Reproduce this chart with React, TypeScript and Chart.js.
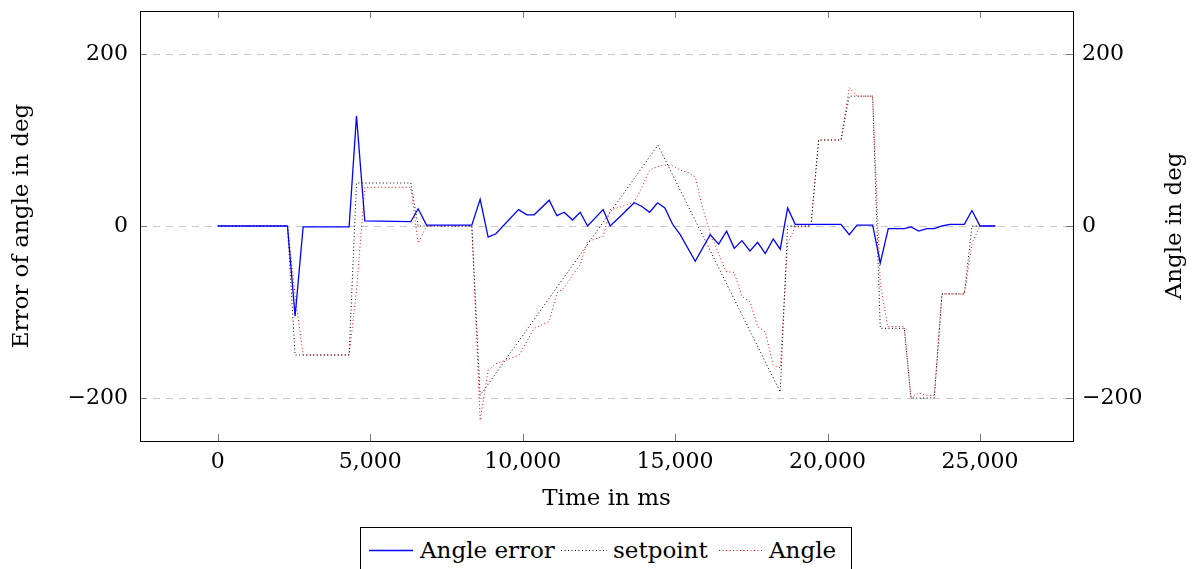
import React, { useEffect, useRef } from "react";
import { Chart, registerables } from "chart.js";

Chart.register(...registerables);

// ---- Data (time in ms) ----
const errTimes = [0, 2287, 2537, 2800, 4308, 4550, 4823, 6332, 6572, 6846, 8333, 8606, 8868, 9121, 9865, 10138, 10378, 10870, 11122, 11362, 11637, 11887, 12129, 12641, 12871, 13199, 13658, 13901, 14163, 14426, 14665, 14918, 15167, 15660, 16152, 16427, 16689, 16939, 17192, 17454, 17707, 17956, 18219, 18448, 18690, 18940, 20440, 20713, 20965, 21479, 21729, 21991, 22516, 22736, 22989, 23251, 23501, 23753, 24016, 24486, 24737, 25000, 25502];
const errValues = [0, 0, -105, -1, -1, 128, 6, 5, 20, 1, 1, 31, -13, -9, 19, 13, 13, 30, 12, 16, 7, 16, 0, 19, 0, 11, 27, 23, 16, 27, 21, 2, -10, -41, -10, -21, -6, -26, -17, -29, -19, -32, -15, -27, 21, 2, 2, -10, 1, 1, -43, -3, -3, -1, -6, -3, -3, 0, 2, 2, 18, 0, 0];

const setTimes = [0, 2287, 2537, 4308, 4550, 6332, 6572, 8333, 8606, 14436, 18448, 18690, 19455, 19707, 20440, 20713, 21479, 21729, 22516, 22736, 23501, 23753, 24486, 24737, 25502];
const setValues = [0, 0, -150, -150, 50, 50, 0, 0, -197, 94, -193, 0, 0, 100, 100, 151, 151, -119, -119, -200, -200, -79, -79, 0, 0];

const angTimes = [0, 2287, 2537, 2800, 4308, 4550, 4823, 6332, 6572, 6846, 8333, 8606, 8868, 9121, 9372, 9886, 10378, 10870, 11122, 11362, 11637, 11887, 12129, 12641, 12871, 13199, 13658, 13901, 14163, 14403, 14665, 14918, 15167, 15443, 15660, 15902, 16152, 16427, 16667, 16939, 17192, 17454, 17707, 17956, 18219, 18448, 18691, 18940, 19455, 19707, 20440, 20713, 20965, 21479, 21729, 21971, 22516, 22736, 22989, 23251, 23501, 23753, 24486, 24737, 25000, 25502];
const angValues = [0, 0, -80, -150, -150, -75, 45, 45, -20, 0, 0, -226, -168, -160, -157, -150, -119, -111, -78, -72, -57, -45, -18, -12, 19, 22, 28, 44, 65, 69, 71, 70, 65, 62, 57, 21, -9, -32, -53, -54, -82, -88, -117, -123, -162, -165, -20, -1, 0, 100, 100, 161, 151, 151, -67, -117, -117, -200, -194, -197, -197, -79, -79, -20, 0, 0];

const xTicks = [0, 5000, 10000, 15000, 20000, 25000];
const yTicks = [-200, 0, 200];

const seriesNames = ["Angle error", "setpoint", "Angle"];

const FONT = "'DejaVu Serif', serif";

const toXY = (xs: number[], ys: number[]) => xs.map((x, i) => ({ x, y: ys[i] }));
const fmtY = (v: number) => (v < 0 ? "\u2212" + Math.abs(v) : String(v));

const framePlugin = {
  id: "frame",
  beforeDatasetsDraw(chart: any) {
    const { ctx, chartArea, scales } = chart;
    const { left, right, top, bottom } = chartArea;
    ctx.save();
    ctx.strokeStyle = "#c8c8c8";
    ctx.lineWidth = 1;
    ctx.setLineDash([7, 6]);
    for (const v of yTicks) {
      const y = Math.round(scales.y.getPixelForValue(v)) + 0.5;
      ctx.beginPath();
      ctx.moveTo(left, y);
      ctx.lineTo(right, y);
      ctx.stroke();
    }
    ctx.setLineDash([]);
    ctx.strokeStyle = "#7a7a7a";
    for (const v of xTicks) {
      const x = Math.round(scales.x.getPixelForValue(v)) + 0.5;
      ctx.beginPath();
      ctx.moveTo(x, bottom);
      ctx.lineTo(x, bottom - 7);
      ctx.moveTo(x, top);
      ctx.lineTo(x, top + 7);
      ctx.stroke();
    }
    for (const v of yTicks) {
      const y = Math.round(scales.y.getPixelForValue(v)) + 0.5;
      ctx.beginPath();
      ctx.moveTo(left, y);
      ctx.lineTo(left + 7, y);
      ctx.moveTo(right, y);
      ctx.lineTo(right - 7, y);
      ctx.stroke();
    }
    ctx.restore();
  },
  afterDatasetsDraw(chart: any) {
    const { ctx, chartArea } = chart;
    const { left, right, top, bottom } = chartArea;
    ctx.save();
    ctx.strokeStyle = "#000";
    ctx.lineWidth = 1;
    ctx.strokeRect(Math.round(left) + 0.5, Math.round(top) + 0.5, Math.round(right - left), Math.round(bottom - top));
    // right axis title, reading bottom-to-top
    ctx.fillStyle = "#000";
    ctx.font = "23px " + FONT;
    ctx.textAlign = "center";
    ctx.textBaseline = "middle";
    ctx.translate(1175, (top + bottom) / 2);
    ctx.rotate(-Math.PI / 2);
    ctx.fillText("Angle in deg", 0, 0);
    ctx.restore();
  },
};

export default function App() {
  const canvasRef = useRef<HTMLCanvasElement | null>(null);

  useEffect(() => {
    const canvas = canvasRef.current;
    if (!canvas) return;
    const tickFont = { family: FONT, size: 22 };
    const titleFont = { family: FONT, size: 23 };
    const fitY = (w: number) => (s: any) => {
      s.width = w;
      s.paddingTop = 0;
      s.paddingBottom = 0;
    };
    const chart = new Chart(canvas, {
      type: "line",
      data: {
        datasets: [
          {
            label: seriesNames[0],
            data: toXY(errTimes, errValues),
            borderColor: "#0000ff",
            borderWidth: 1.3,
            pointRadius: 0,
            tension: 0,
            yAxisID: "y",
          },
          {
            label: seriesNames[1],
            data: toXY(setTimes, setValues),
            borderColor: "#000000",
            borderWidth: 1,
            borderDash: [1, 2.5],
            pointRadius: 0,
            tension: 0,
            yAxisID: "y2",
          },
          {
            label: seriesNames[2],
            data: toXY(angTimes, angValues),
            borderColor: "#ff0000",
            borderWidth: 1,
            borderDash: [1, 2.5],
            pointRadius: 0,
            tension: 0,
            yAxisID: "y2",
          },
        ],
      },
      options: {
        animation: false,
        responsive: false,
        devicePixelRatio: 1,
        layout: { padding: { left: 0, right: 0, top: 11, bottom: 56 } },
        plugins: { legend: { display: false }, tooltip: { enabled: false } },
        scales: {
          x: {
            type: "linear",
            min: -2550,
            max: 28050,
            afterBuildTicks: (s: any) => {
              s.ticks = xTicks.map((v) => ({ value: v }));
            },
            afterFit: (s: any) => {
              s.height = 72;
              s.paddingLeft = 0;
              s.paddingRight = 0;
            },
            grid: { display: false, drawTicks: false },
            border: { display: false },
            ticks: {
              font: tickFont,
              color: "#000",
              padding: 8,
              maxRotation: 0,
              autoSkip: false,
              callback: (v: any) => Number(v).toLocaleString("en-US"),
            },
            title: {
              display: true,
              text: "Time in ms",
              font: titleFont,
              color: "#000",
              padding: { top: 0, bottom: 0 },
            },
          },
          y: {
            type: "linear",
            position: "left",
            min: -250,
            max: 250,
            afterBuildTicks: (s: any) => {
              s.ticks = yTicks.map((v) => ({ value: v }));
            },
            afterFit: fitY(140),
            grid: { display: false, drawTicks: false },
            border: { display: false },
            ticks: {
              font: tickFont,
              color: "#000",
              padding: 12,
              autoSkip: false,
              callback: (v: any) => fmtY(Number(v)),
            },
            title: {
              display: true,
              text: "Error of angle in deg",
              font: titleFont,
              color: "#000",
              padding: { top: 8, bottom: 0 },
            },
          },
          y2: {
            type: "linear",
            position: "right",
            min: -250,
            max: 250,
            afterBuildTicks: (s: any) => {
              s.ticks = yTicks.map((v) => ({ value: v }));
            },
            afterFit: fitY(119),
            grid: { display: false, drawTicks: false },
            border: { display: false },
            ticks: {
              font: tickFont,
              color: "#000",
              padding: 9,
              autoSkip: false,
              callback: (v: any) => fmtY(Number(v)),
            },
            title: { display: false },
          },
        },
      },
      plugins: [framePlugin],
    } as any);
    return () => chart.destroy();
  }, []);

  const legendText: React.CSSProperties = {
    position: "absolute",
    top: 0,
    height: 44,
    lineHeight: "44px",
    fontSize: 23,
    fontFamily: FONT,
    color: "#000",
    whiteSpace: "nowrap",
  };
  const sample = (left: number, width: number, color: string, dash: string | null) => (
    <svg style={{ position: "absolute", left: left - 361, top: 0 }} width={width} height={44}>
      <line
        x1={0}
        y1={22.5}
        x2={width}
        y2={22.5}
        stroke={color}
        strokeWidth={dash ? 1 : 1.3}
        strokeDasharray={dash || undefined}
      />
    </svg>
  );

  return (
    <div style={{ position: "fixed", left: 0, top: 0, width: 1192, height: 569, background: "#fff", overflow: "hidden" }}>
      <canvas ref={canvasRef} width={1192} height={569} style={{ position: "absolute", left: 0, top: 0, width: 1192, height: 569 }} />
      <div
        style={{
          position: "absolute",
          left: 360,
          top: 527,
          width: 490,
          height: 60,
          border: "1px solid #000",
          background: "#fff",
        }}
      >
        {sample(369, 44, "#0000ff", null)}
        <span style={{ ...legendText, left: 420 - 361 }}>{seriesNames[0]}</span>
        {sample(561, 46, "#000000", "1 2.5")}
        <span style={{ ...legendText, left: 613 - 361 }}>{seriesNames[1]}</span>
        {sample(719, 45, "#ff0000", "1 2.5")}
        <span style={{ ...legendText, left: 769 - 361 }}>{seriesNames[2]}</span>
      </div>
    </div>
  );
}
